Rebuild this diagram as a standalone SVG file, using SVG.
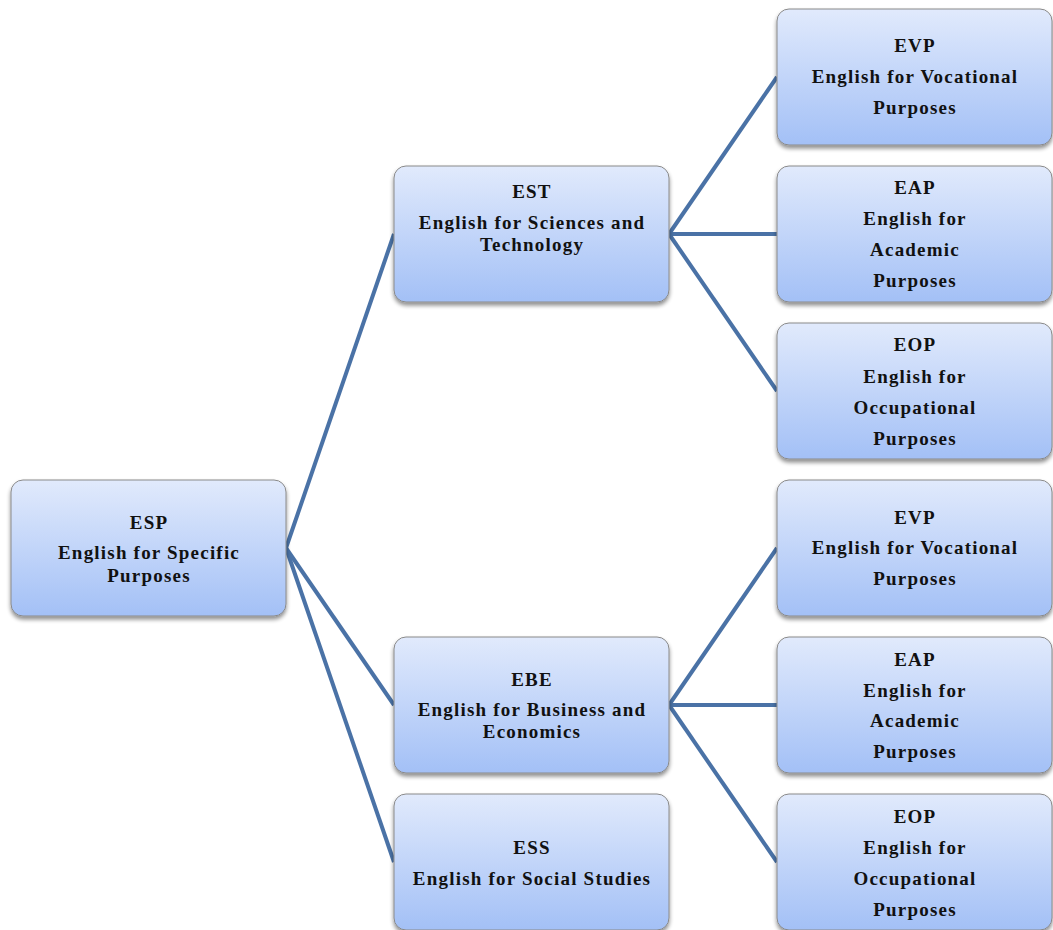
<svg xmlns="http://www.w3.org/2000/svg" width="1053" height="930" viewBox="0 0 1053 930">
<defs>
<linearGradient id="g" x1="0" y1="0" x2="0" y2="1">
<stop offset="0" stop-color="#e1eafc"/>
<stop offset="1" stop-color="#a3c0f6"/>
</linearGradient>
<filter id="sh" x="-10%" y="-10%" width="120%" height="130%">
<feGaussianBlur in="SourceAlpha" stdDeviation="2"/>
<feOffset dx="0" dy="3"/>
<feComponentTransfer><feFuncA type="linear" slope="0.45"/></feComponentTransfer>
<feMerge><feMergeNode/><feMergeNode in="SourceGraphic"/></feMerge>
</filter>
</defs>
<style>
.b{fill:url(#g);stroke:#8a8a8a;stroke-width:1;filter:url(#sh)}
text{font-family:"Liberation Serif","DejaVu Serif",serif;font-weight:bold;font-size:19px;letter-spacing:1.2px;fill:#111;text-anchor:middle}
.c{stroke:#4a72a6;stroke-width:4;fill:none}
</style>
<rect width="1053" height="930" fill="#fff"/>
<g id="connectors">
<line class="c" x1="286" y1="548" x2="394" y2="234"/>
<line class="c" x1="286" y1="548" x2="394" y2="705"/>
<line class="c" x1="286" y1="548" x2="394" y2="862"/>
<line class="c" x1="669" y1="234" x2="777" y2="77"/>
<line class="c" x1="669" y1="234" x2="777" y2="234"/>
<line class="c" x1="669" y1="234" x2="777" y2="391"/>
<line class="c" x1="669" y1="705" x2="777" y2="548"/>
<line class="c" x1="669" y1="705" x2="777" y2="705"/>
<line class="c" x1="669" y1="705" x2="777" y2="862"/>
</g>
<g id="esp"><rect class="b" x="11" y="480" width="275" height="136" rx="12"/>
<text x="149" y="529">ESP</text><text x="149" y="559">English for Specific</text><text x="149" y="582">Purposes</text></g>
<g id="est"><rect class="b" x="394" y="166" width="275" height="136" rx="12"/>
<text x="532" y="198">EST</text><text x="532" y="229">English for Sciences and</text><text x="532" y="251">Technology</text></g>
<g id="ebe"><rect class="b" x="394" y="637" width="275" height="136" rx="12"/>
<text x="532" y="686">EBE</text><text x="532" y="716">English for Business and</text><text x="532" y="738">Economics</text></g>
<g id="ess"><rect class="b" x="394" y="794" width="275" height="136" rx="12"/>
<text x="532" y="854">ESS</text><text x="532" y="885">English for Social Studies</text></g>
<g id="evp1"><rect class="b" x="777" y="9" width="275" height="136" rx="12"/>
<text x="915" y="52">EVP</text><text x="915" y="83">English for Vocational</text><text x="915" y="114">Purposes</text></g>
<g id="eap1"><rect class="b" x="777" y="166" width="275" height="136" rx="12"/>
<text x="915" y="194">EAP</text><text x="915" y="225">English for</text><text x="915" y="256">Academic</text><text x="915" y="287">Purposes</text></g>
<g id="eop1"><rect class="b" x="777" y="323" width="275" height="136" rx="12"/>
<text x="915" y="351">EOP</text><text x="915" y="383">English for</text><text x="915" y="414">Occupational</text><text x="915" y="445">Purposes</text></g>
<g id="evp2"><rect class="b" x="777" y="480" width="275" height="136" rx="12"/>
<text x="915" y="524">EVP</text><text x="915" y="554">English for Vocational</text><text x="915" y="585">Purposes</text></g>
<g id="eap2"><rect class="b" x="777" y="637" width="275" height="136" rx="12"/>
<text x="915" y="666">EAP</text><text x="915" y="697">English for</text><text x="915" y="727">Academic</text><text x="915" y="758">Purposes</text></g>
<g id="eop2"><rect class="b" x="777" y="794" width="275" height="136" rx="12"/>
<text x="915" y="823">EOP</text><text x="915" y="854">English for</text><text x="915" y="885">Occupational</text><text x="915" y="916">Purposes</text></g>
</svg>
